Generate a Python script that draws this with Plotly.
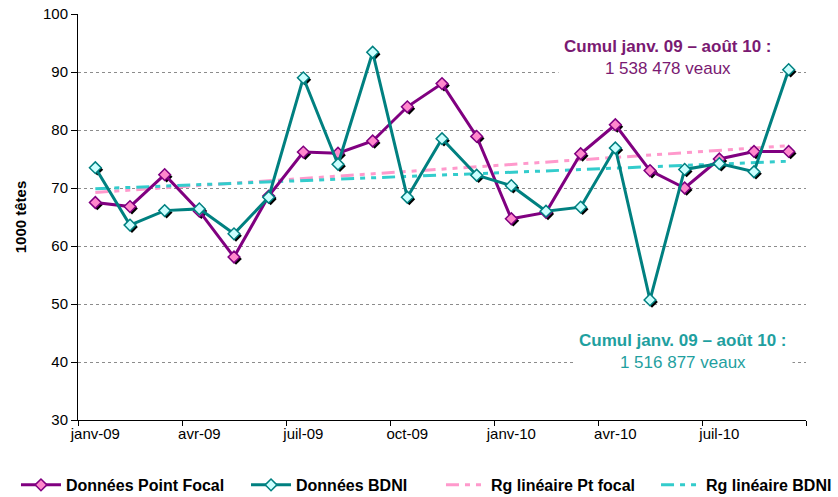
import numpy as np
import plotly.graph_objects as go

months = ["janv-09", "févr-09", "mars-09", "avr-09", "mai-09", "juin-09", "juil-09",
          "août-09", "sept-09", "oct-09", "nov-09", "déc-09", "janv-10", "févr-10",
          "mars-10", "avr-10", "mai-10", "juin-10", "juil-10", "août-10", "sept-10"]
point_focal = [67.5, 66.8, 72.3, 66.0, 58.1, 68.6, 76.2, 76.0, 78.1, 84.0, 88.0,
               78.9, 64.7, 65.8, 75.9, 80.9, 73.0, 70.0, 75.0, 76.3, 76.3]
bdni = [73.5, 63.6, 66.1, 66.4, 62.1, 68.4, 89.0, 74.1, 93.4, 68.4, 78.5,
        72.2, 70.4, 66.0, 66.7, 76.9, 50.7, 73.2, 74.2, 72.8, 90.4]
y_ticks = [30, 40, 50, 60, 70, 80, 90, 100]
names = ["Données Point Focal", "Données BDNI", "Rg linéaire Pt focal", "Rg linéaire BDNI"]
note_pf = ["Cumul janv. 09 – août 10 :", "1 538 478 veaux"]
note_bdni = ["Cumul janv. 09 – août 10 :", "1 516 877 veaux"]

# linear trends (as Excel's linear trendline)
idx = np.arange(len(months))
c_pf = np.polyfit(idx, point_focal, 1)
c_bd = np.polyfit(idx, bdni, 1)
trend_pf = np.polyval(c_pf, idx)
trend_bd = np.polyval(c_bd, idx)

FONT = "Arial, Liberation Sans, sans-serif"
PURPLE = "#800080"
TEAL = "#008080"
PINK = "#FF88CC"
CYAN_FILL = "#CCFFFF"
TR_PINK = "#FF99CC"
TR_TEAL = "#33CCCC"

# body margin removed via post_script, figure fills the 838x497 window
L, R, T, B = 78, 32, 14, 77
W, H = 838, 497
pw, ph = W - L - R, H - T - B
xr = [-0.5, len(months) - 0.5]
yr = [30, 100]
sx = 2 * (xr[1] - xr[0]) / pw
sy = 2 * (yr[1] - yr[0]) / ph

fig = go.Figure()

# shadows (on shifted base axes)
for vals in (point_focal, bdni):
    fig.add_trace(go.Scatter(x=months, y=vals, mode="markers", xaxis="x", yaxis="y",
                             marker=dict(symbol="diamond", size=9, color="black"),
                             showlegend=False, hoverinfo="skip"))

DASH = "13px,6px,5px,6px,5px,6px"
fig.add_trace(go.Scatter(x=months, y=trend_pf, mode="lines", name=names[2], xaxis="x2", yaxis="y2",
                         legend="legend3", line=dict(color=TR_PINK, width=3, dash=DASH)))
fig.add_trace(go.Scatter(x=months, y=trend_bd, mode="lines", name=names[3], xaxis="x2", yaxis="y2",
                         legend="legend4", line=dict(color=TR_TEAL, width=3, dash=DASH)))
fig.add_trace(go.Scatter(x=months, y=point_focal, mode="lines+markers", name=names[0],
                         xaxis="x2", yaxis="y2", legend="legend",
                         line=dict(color=PURPLE, width=3),
                         marker=dict(symbol="diamond", size=9, color=PINK,
                                     line=dict(color=PURPLE, width=1.5))))
fig.add_trace(go.Scatter(x=months, y=bdni, mode="lines+markers", name=names[1],
                         xaxis="x2", yaxis="y2", legend="legend2",
                         line=dict(color=TEAL, width=3),
                         marker=dict(symbol="diamond", size=9, color=CYAN_FILL,
                                     line=dict(color=TEAL, width=1.5))))

leg_font = dict(family=FONT, size=16, color="black", weight="bold")
def leg(xp):
    return dict(orientation="h", x=xp, xanchor="left", y=-0.16, yanchor="middle",
                font=leg_font, itemwidth=40, bgcolor="rgba(0,0,0,0)")

fig.update_layout(
    width=W, height=H,
    margin=dict(l=L, r=R, t=T, b=B, autoexpand=False),
    paper_bgcolor="white", plot_bgcolor="white",
    font=dict(family=FONT, size=15, color="black"),
    xaxis=dict(type="category", range=[xr[0] - sx, xr[1] - sx], visible=False, fixedrange=True),
    yaxis=dict(range=[yr[0] + sy, yr[1] + sy], visible=False, fixedrange=True),
    xaxis2=dict(type="category", overlaying="x", anchor="y2", range=xr,
                tickmode="linear", tick0=0, dtick=3, tickson="boundaries", tickangle=0,
                ticks="outside", ticklen=5, tickcolor="black", tickwidth=1,
                showline=True, linecolor="black", linewidth=1, showgrid=False,
                automargin=False,
                tickfont=dict(family=FONT, size=15, color="black")),
    yaxis2=dict(overlaying="y", anchor="x2", side="left", range=yr,
                tickvals=y_ticks, ticks="outside", ticklen=6, tickcolor="black",
                showline=True, linecolor="black", linewidth=1,
                showgrid=True, gridcolor="#8C8C8C", griddash="dot", gridwidth=1,
                zeroline=False, automargin=False, ticklabeloverflow="allow",
                tickfont=dict(family=FONT, size=15, color="black"),
                title=dict(text="1000 têtes", standoff=12,
                           font=dict(family=FONT, size=15, color="black", weight="bold"))),
    legend=leg(-0.0852),
    legend2=leg(0.2308),
    legend3=leg(0.4986),
    legend4=leg(0.794),
    showlegend=True,
)

fig.add_annotation(xref="paper", yref="paper", x=0.811, y=0.892, showarrow=False,
                   xanchor="center", yanchor="middle",
                   text="<b>" + note_pf[0] + "</b><br>" + note_pf[1],
                   font=dict(family=FONT, size=17, color="#7A1A72"),
                   bgcolor="white", borderpad=5, align="center")
fig.add_annotation(xref="paper", yref="paper", x=0.831, y=0.168, showarrow=False,
                   xanchor="center", yanchor="middle",
                   text="<b>" + note_bdni[0] + "</b><br>" + note_bdni[1],
                   font=dict(family=FONT, size=17, color="#1FA0A0"),
                   bgcolor="white", borderpad=5, align="center")

fig.write_html("out.html", config={"displayModeBar": False},
               post_script="document.body.style.margin='0';document.body.style.overflow='hidden';")
